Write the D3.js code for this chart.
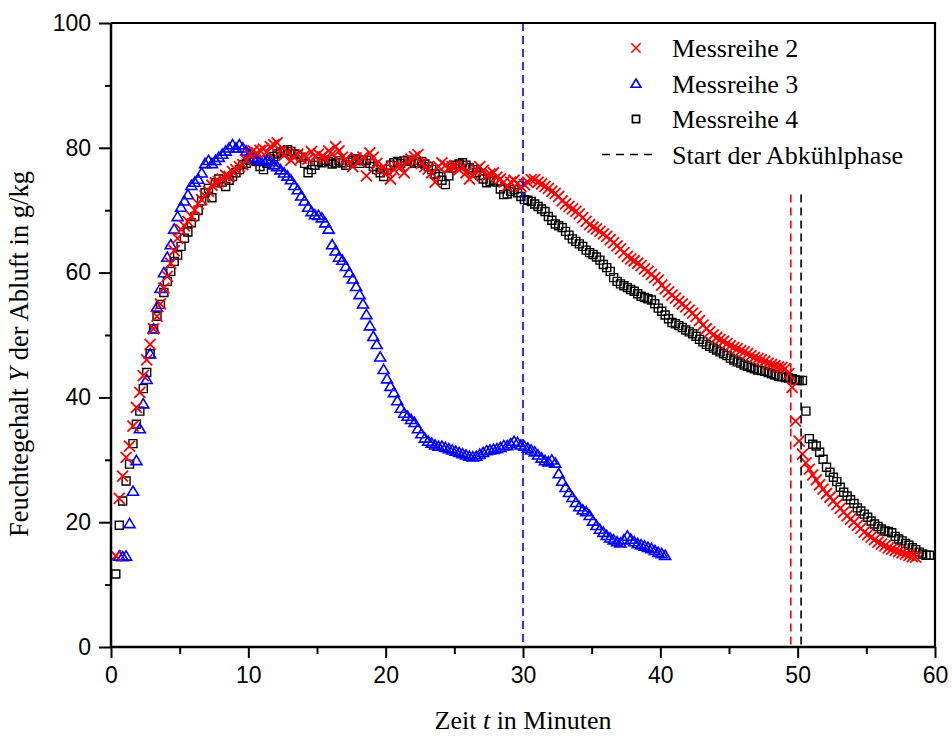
<!DOCTYPE html>
<html>
<head>
  <meta charset="utf-8">
  <style>
    body { margin: 0; background: #fff; }
    .tick-label { font-family: "Liberation Sans", Arial, sans-serif; font-size: 23px; fill: #000; }
    .serif { font-family: "Liberation Serif", "Times New Roman", serif; fill: #000; }
  </style>
</head>
<body>
  <script src="https://cdn.jsdelivr.net/npm/d3@7"></script>
  <script>
    const width = 952, height = 740;
    const margin = { top: 23, right: 17, bottom: 93, left: 111 };

    // sampling: one reading every 0.25 min, starting time per series
    const step = 0.25;
    const start2 = 0.35, start3 = 0.6, start4 = 0.35;

    // Messreihe 2 (red crosses), g/kg
    const reihe2 = [
      14.6, 23.8, 27.4, 30.4, 32.2, 35.4, 38.4, 40.8, 43.5, 46, 48.5, 51, 53, 55, 57.5, 59.4,
      61.5, 63.5, 65.5, 66.9, 67.5, 68.2, 69, 70, 71, 71.7, 72.3, 73, 74, 74.4, 74.6, 75,
      75.6, 75.4, 76.2, 76.5, 77, 77.3, 78, 79, 79.5, 79.2, 79.6, 79.8, 79.3, 80.2, 80.5, 80.8,
      79.5, 78.8, 79.3, 78, 78.5, 79, 78.3, 78.8, 78.2, 79.4, 78.6, 79, 78.6, 78.3, 79.5, 79,
      80.2, 79.5, 78.5, 78.2, 77.6, 77, 78.4, 77.8, 78.5, 75.5, 79.2, 78.5, 77.5, 76.5, 77, 76.2,
      75, 76.5, 77, 77, 76, 77.8, 78.2, 78.6, 78.9, 77.5, 77, 76.6, 76, 74.5, 77, 77.6,
      77.2, 76.8, 77, 77, 76.5, 77, 76, 75, 75.5, 76.5, 77, 76.4, 75.5, 75.8, 76, 75.3,
      75, 74.5, 73.8, 74.5, 74.8, 74.3, 73.8, 74.1, 74.5, 74.9, 74.9, 74.5, 74.2, 73.8, 73.5, 73,
      72.7, 72.2, 71.5, 71, 70.6, 70.2, 69.8, 69.4, 68.8, 68.2, 67.7, 67.3, 67, 66.6, 66.2, 65.8,
      65.3, 64.8, 64.3, 63.8, 63.2, 62.6, 62.2, 61.9, 61.5, 61.1, 60.6, 60.2, 59.7, 59.2, 58.8, 58,
      57.4, 56.9, 56.4, 55.9, 55.4, 55, 54.5, 54, 53.5, 53, 52.3, 51.6, 51, 50.5, 50, 49.6,
      49.3, 49, 48.6, 48.3, 48, 47.8, 47.5, 47.3, 47, 46.7, 46.4, 46.2, 46, 45.8, 45.5, 45.3,
      45.1, 44.9, 44.8, 44.6, 43.8, 41.6, 36.2, 33, 30.9, 29.5, 28.5, 27.6, 26.8, 26, 25.3, 24.6,
      24, 23.4, 22.8, 22.2, 21.6, 21, 20.5, 20, 19.5, 19, 18.4, 18, 17.6, 17.2, 16.8, 16.5,
      16.2, 15.9, 15.7, 15.5, 15.3, 15.1, 14.9, 14.7, 14.5, 14.4
    ];

    // Messreihe 3 (blue triangles)
    const reihe3 = [
      14.6, 14.5, 14.6, 19.8, 25, 29.9, 35, 39, 42.9, 47, 51, 54.5, 57.5, 60, 62.5, 64.5,
      67, 69, 70.5, 71.5, 72.5, 74, 74.5, 75, 76, 77.5, 78, 77.5, 78, 78.5, 79, 79.5,
      80, 80.5, 80, 80.5, 80, 79.5, 79, 78.5, 78.3, 78, 78, 78, 77.8, 77.3, 77, 76.5,
      76, 75.5, 74.9, 74, 73.3, 72.3, 71.5, 70.5, 69.8, 69.3, 69.2, 68.8, 68, 67, 64.5, 63.5,
      62.5, 62, 61, 60, 59, 57.8, 56.5, 55, 53.3, 51.5, 49.8, 48.5, 46.5, 44.5, 43, 41.8,
      40.8, 39.5, 38.3, 37.5, 37, 36.5, 36, 35, 34.2, 33.5, 33, 32.7, 32.4, 32.2, 32.2, 32,
      31.8, 31.6, 31.4, 31.2, 31, 30.8, 30.6, 30.5, 30.6, 30.9, 31.2, 31.5, 31.6, 31.7, 31.8, 32,
      32.3, 32.3, 32.6, 33, 32.8, 32.4, 32.2, 31.9, 31.6, 31.3, 30.8, 30.3, 29.9, 29.7, 30, 29.5,
      27.8, 26.6, 25.6, 24.8, 24, 23.2, 22.5, 22, 21.7, 21.1, 20.2, 19.5, 18.9, 18.4, 17.9, 17.5,
      17.2, 16.9, 16.7, 17.2, 17.8, 17.3, 16.9, 16.6, 16.4, 16.2, 16, 15.8, 15.5, 15.2, 15, 14.7
    ];

    // Messreihe 4 (black squares)
    const reihe4 = [
      11.7, 19.5, 23.4, 26.6, 29.3, 32.6, 35.7, 37.8, 41.4, 44, 47, 51, 53, 54.9, 56.8, 58.6,
      60.2, 61.8, 62.8, 64.2, 65.5, 66.5, 68, 69, 70, 71.5, 72.8, 73.5, 72, 74.4, 75, 74.5,
      73.8, 74.8, 75.4, 76, 76.5, 77.3, 77.5, 78, 78.4, 77.8, 77, 76.5, 77.5, 78.2, 78.6, 79,
      79.3, 79.5, 79.7, 79.4, 79, 78.9, 78.5, 77.5, 76, 76.5, 77.2, 77.8, 77.6, 78, 77.8, 77.4,
      77.6, 77.9, 77.6, 77.2, 77.7, 78, 78.2, 77.5, 77.9, 78, 77.5, 77, 76.5, 76, 75.4, 76.5,
      77.2, 77.6, 77.8, 77.5, 77.9, 78, 77.8, 77.5, 77.6, 77.8, 77.4, 77, 76.5, 75.8, 75.4, 74.8,
      74.1, 75.5, 76.8, 77.2, 77.4, 77.6, 77.2, 76.8, 76.5, 76, 75.6, 75, 74.4, 74.6, 74.8, 74.5,
      73.4, 72.5, 72.6, 73, 73.3, 72.8, 72.2, 71.7, 71.6, 71.4, 71, 70.6, 70.2, 69.8, 69, 68.4,
      67.8, 67.5, 67.2, 66.6, 66, 65.4, 65, 64.6, 64.2, 63.6, 63.2, 62.9, 62.5, 62, 61.3, 60.8,
      60.2, 59.2, 58.6, 58.2, 57.9, 57.6, 57.3, 57, 56.6, 56.2, 56, 55.8, 55.6, 55, 54.3, 53.8,
      53.2, 52.6, 52, 51.8, 51.5, 51.2, 50.8, 50.5, 50.2, 49.8, 49.3, 48.9, 48.5, 48.2, 47.9, 47.6,
      47.3, 47, 46.7, 46.3, 46, 45.7, 45.5, 45.2, 45, 44.8, 44.6, 44.4, 44.3, 44.2, 44, 43.8,
      43.6, 43.4, 43.3, 43.2, 43.1, 43, 42.8, 42.7, 42.7, 37.8, 33.4, 32.5, 32.2, 31.2, 30.1, 28.8,
      28, 27.2, 26.5, 25.6, 24.8, 24.2, 23.6, 23, 22.3, 21.8, 21.3, 20.8, 20.2, 19.7, 19.3, 18.9,
      18.6, 18.5, 18.3, 17.7, 17.3, 17, 16.6, 16.3, 15.9, 15.6, 15.2, 14.9, 14.7, 14.7
    ];

    // start of the cooling phase (minutes) and where the marker lines begin (g/kg)
    const abkuehlung = [
      { t: 30, color: "#0000ff", from: 100 },
      { t: 49.5, color: "#ff0000", from: 72.5 },
      { t: 50.25, color: "#000000", from: 72.5 }
    ];

    const xTicks = [0, 10, 20, 30, 40, 50, 60];
    const yTicks = [0, 20, 40, 60, 80, 100];
    const legendLabels = ["Messreihe 2", "Messreihe 3", "Messreihe 4", "Start der Abkühlphase"];

    // marker shapes
    const crossPath = "M-5.5,-5.5L5.5,5.5M-5.5,5.5L5.5,-5.5";
    const triPath = "M0,-5L5.5,4.2L-5.5,4.2Z";
    const squarePath = "M-4,-4h8v8h-8Z";

    function toPoints(values, start) {
      return values.map((v, i) => ({ t: start + i * step, y: v }));
    }

    const xScale = d3.scaleLinear().domain([0, 60]).range([margin.left, width - margin.right]);
    const yScale = d3.scaleLinear().domain([0, 100]).range([height - margin.bottom, margin.top]);

    const svg = d3.select("body").append("svg")
      .attr("width", width)
      .attr("height", height);

    svg.append("rect").attr("width", width).attr("height", height).attr("fill", "#fff");

    // data series: black first, red on top
    const series = [
      { data: toPoints(reihe4, start4), path: squarePath, color: "#000", sw: 1.4 },
      { data: toPoints(reihe3, start3), path: triPath, color: "#0000ff", sw: 1.6 },
      { data: toPoints(reihe2, start2), path: crossPath, color: "#ff0000", sw: 1.8 }
    ];

    series.forEach(s => {
      svg.append("g")
        .selectAll("path")
        .data(s.data)
        .enter()
        .append("path")
        .attr("d", s.path)
        .attr("transform", d => `translate(${xScale(d.t)},${yScale(d.y)})`)
        .attr("fill", "none")
        .attr("stroke", s.color)
        .attr("stroke-width", s.sw);
    });

    // dashed lines for start of cooling phase
    svg.append("g")
      .selectAll("line")
      .data(abkuehlung)
      .enter()
      .append("line")
      .attr("x1", d => xScale(d.t))
      .attr("x2", d => xScale(d.t))
      .attr("y1", d => yScale(d.from))
      .attr("y2", yScale(0))
      .attr("stroke", d => d.color)
      .attr("stroke-width", 1.6)
      .attr("stroke-dasharray", "8,5");

    // frame (top and right)
    svg.append("path")
      .attr("d", `M${xScale(0)},${yScale(100)}H${xScale(60)}V${yScale(0)}`)
      .attr("fill", "none")
      .attr("stroke", "#000")
      .attr("stroke-width", 2.2);

    // x axis with minor ticks
    const xMinor = d3.axisBottom(xScale).tickValues(d3.range(5, 60, 10)).tickSize(7).tickFormat("");
    const xAxis = d3.axisBottom(xScale).tickValues(xTicks).tickSize(11).tickPadding(9).tickFormat(d3.format("d"));

    svg.append("g")
      .attr("transform", `translate(0,${yScale(0)})`)
      .call(xMinor)
      .call(g => g.select(".domain").remove())
      .selectAll("line").attr("stroke-width", 2);

    const gx = svg.append("g")
      .attr("transform", `translate(0,${yScale(0)})`)
      .call(xAxis);
    gx.select(".domain").attr("stroke-width", 2.5).attr("d", `M${xScale(0)},0H${xScale(60)}`);
    gx.selectAll("line").attr("stroke-width", 2);
    gx.selectAll("text").attr("class", "tick-label").attr("font-size", null).attr("font-family", null);

    // y axis with minor ticks
    const yMinor = d3.axisLeft(yScale).tickValues(d3.range(10, 100, 20)).tickSize(6).tickFormat("");
    const yAxis = d3.axisLeft(yScale).tickValues(yTicks).tickSize(12).tickPadding(8).tickFormat(d3.format("d"));

    svg.append("g")
      .attr("transform", `translate(${xScale(0)},0)`)
      .call(yMinor)
      .call(g => g.select(".domain").remove())
      .selectAll("line").attr("stroke-width", 2);

    const gy = svg.append("g")
      .attr("transform", `translate(${xScale(0)},0)`)
      .call(yAxis);
    gy.select(".domain").attr("stroke-width", 2.5).attr("d", `M0,${yScale(0)}V${yScale(100)}`);
    gy.selectAll("line").attr("stroke-width", 2);
    gy.selectAll("text").attr("class", "tick-label").attr("font-size", null).attr("font-family", null);

    // axis titles
    const xTitle = svg.append("text")
      .attr("class", "serif")
      .attr("font-size", 26)
      .attr("text-anchor", "middle")
      .attr("x", xScale(30))
      .attr("y", 729);
    xTitle.append("tspan").text("Zeit ");
    xTitle.append("tspan").attr("font-style", "italic").text("t");
    xTitle.append("tspan").text(" in Minuten");

    const yTitle = svg.append("text")
      .attr("class", "serif")
      .attr("font-size", 26.5)
      .attr("text-anchor", "middle")
      .attr("transform", `translate(28,354)rotate(-90)`);
    yTitle.append("tspan").text("Feuchtegehalt ");
    yTitle.append("tspan").attr("font-style", "italic").text("Y");
    yTitle.append("tspan").text(" der Abluft in g/kg");

    // legend
    const legend = svg.append("g").attr("transform", "translate(636,48)");
    const legendShapes = [
      { path: crossPath, color: "#ff0000" },
      { path: triPath, color: "#0000ff" },
      { path: squarePath, color: "#000" }
    ];
    legendShapes.forEach((s, i) => {
      legend.append("path")
        .attr("d", s.path)
        .attr("transform", `translate(0,${i * 35.5})scale(${i === 0 ? 0.85 : 0.9})`)
        .attr("fill", "none")
        .attr("stroke", s.color)
        .attr("stroke-width", 1.8);
    });
    legend.append("line")
      .attr("x1", -34).attr("x2", 20)
      .attr("y1", 3 * 35.5).attr("y2", 3 * 35.5)
      .attr("stroke", "#000")
      .attr("stroke-width", 1.6)
      .attr("stroke-dasharray", "8,6");
    legend.selectAll("text.lg")
      .data(legendLabels)
      .enter()
      .append("text")
      .attr("class", "serif lg")
      .attr("font-size", 26)
      .attr("x", 36)
      .attr("y", (d, i) => i * 35.5 + 9)
      .text(d => d);
  </script>
</body>
</html>
